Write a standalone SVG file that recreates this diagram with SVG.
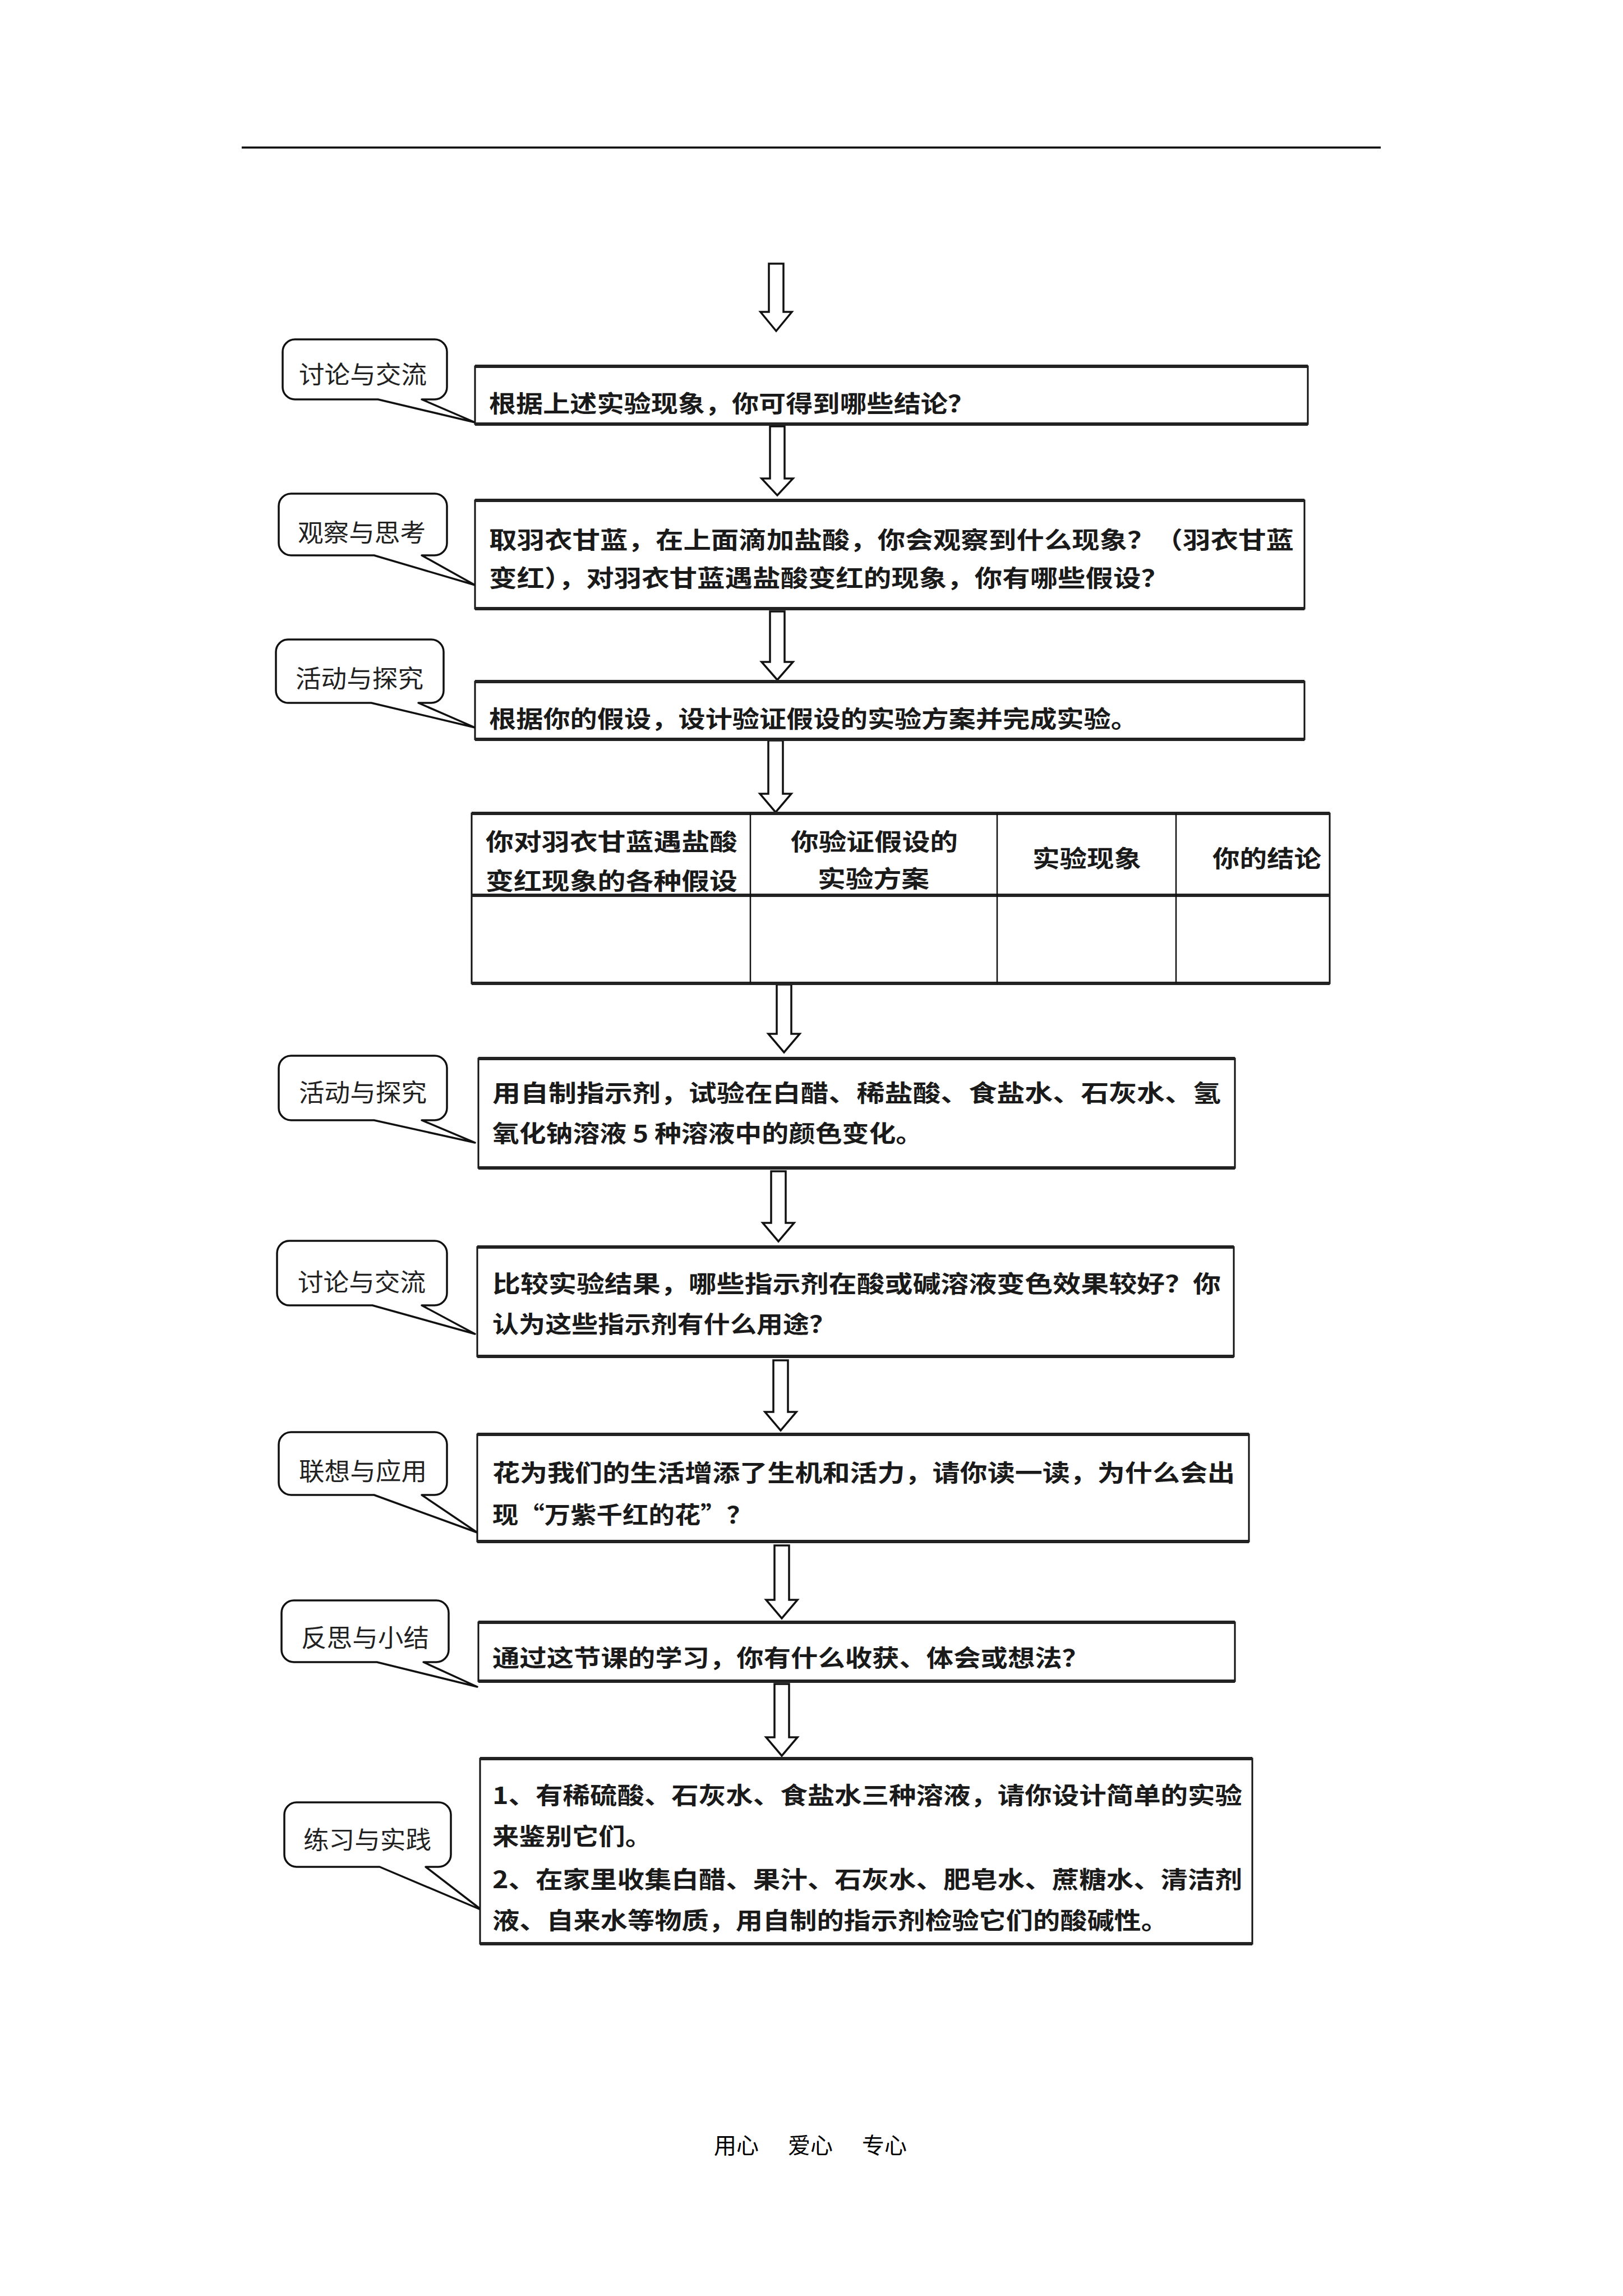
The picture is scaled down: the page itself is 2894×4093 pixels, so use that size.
<svg xmlns="http://www.w3.org/2000/svg" width="2894" height="4093" viewBox="0 0 2894 4093">
<style>
.box{fill:#fff;stroke:#111;stroke-width:3}
.edge{stroke:#222;stroke-width:6;fill:none}
.cell{stroke:#111;stroke-width:2.5;fill:none}
.bubble{fill:#fff;stroke:#111;stroke-width:3.5;stroke-linejoin:round}
.arrow{fill:#fff;stroke:#111;stroke-width:3.5;stroke-linejoin:miter}
.t{font-family:"Noto Sans CJK SC","Noto Sans",sans-serif;font-size:42px;font-weight:700;fill:#1a1a1a;dominant-baseline:central}
.c{font-family:"Noto Sans CJK SC","Noto Sans",sans-serif;font-size:44px;font-weight:400;fill:#222;text-anchor:middle;dominant-baseline:central}
.f{font-family:"Noto Sans CJK SC","Noto Sans",sans-serif;font-size:40px;font-weight:400;fill:#000;dominant-baseline:central}
</style>
<rect width="2894" height="4093" fill="#fff"/>
<line x1="431" y1="263" x2="2462" y2="263" stroke="#000" stroke-width="3.5"/>

<g id="connectors">
<polygon class="arrow" points="1371,470 1397,470 1397,556 1412,556 1384,590 1356,556 1371,556"/>
<polygon class="arrow" points="1373,760 1399,760 1399,853 1414,853 1386,883 1358,853 1373,853"/>
<polygon class="arrow" points="1373,1090 1399,1090 1399,1180 1414,1180 1386,1212 1358,1180 1373,1180"/>
<polygon class="arrow" points="1370,1320 1396,1320 1396,1415 1411,1415 1383,1448 1355,1415 1370,1415"/>
<polygon class="arrow" points="1385,1755 1411,1755 1411,1843 1426,1843 1398,1876 1370,1843 1385,1843"/>
<polygon class="arrow" points="1375,2088 1401,2088 1401,2180 1416,2180 1388,2213 1360,2180 1375,2180"/>
<polygon class="arrow" points="1379,2425 1405,2425 1405,2517 1420,2517 1392,2550 1364,2517 1379,2517"/>
<polygon class="arrow" points="1381,2755 1407,2755 1407,2852 1422,2852 1394,2885 1366,2852 1381,2852"/>
<polygon class="arrow" points="1381,3002 1407,3002 1407,3097 1422,3097 1394,3130 1366,3097 1381,3097"/>
</g>

<g id="node1">
<path class="bubble" d="M526,605 H775 A22,22 0 0 1 797,627 V690 A22,22 0 0 1 775,712 H752 L847,753 L674,712 H526 A22,22 0 0 1 504,690 V627 A22,22 0 0 1 526,605 Z"/>
<text class="c" x="647" y="665" textLength="228" lengthAdjust="spacingAndGlyphs">讨论与交流</text>
<rect class="box" x="847" y="653" width="1485" height="103"/>
<path class="edge" d="M847,653 H2332 M847,756 H2332"/>
<text class="t" x="872" y="716" textLength="866" lengthAdjust="spacingAndGlyphs">根据上述实验现象，你可得到哪些结论？</text>
</g>

<g id="node2">
<path class="bubble" d="M519,880 H775 A22,22 0 0 1 797,902 V968 A22,22 0 0 1 775,990 H752 L847,1043 L667,990 H519 A22,22 0 0 1 497,968 V902 A22,22 0 0 1 519,880 Z"/>
<text class="c" x="645" y="947" textLength="228" lengthAdjust="spacingAndGlyphs">观察与思考</text>
<rect class="box" x="847" y="892" width="1479" height="193"/>
<path class="edge" d="M847,892 H2326 M847,1085 H2326"/>
<text class="t" x="872" y="959" textLength="1435" lengthAdjust="spacingAndGlyphs">取羽衣甘蓝，在上面滴加盐酸，你会观察到什么现象？（羽衣甘蓝</text>
<text class="t" x="872" y="1027" textLength="1212" lengthAdjust="spacingAndGlyphs">变红），对羽衣甘蓝遇盐酸变红的现象，你有哪些假设？</text>
</g>

<g id="node3">
<path class="bubble" d="M514,1140 H769 A22,22 0 0 1 791,1162 V1231 A22,22 0 0 1 769,1253 H746 L847,1297 L662,1253 H514 A22,22 0 0 1 492,1231 V1162 A22,22 0 0 1 514,1140 Z"/>
<text class="c" x="641" y="1207" textLength="228" lengthAdjust="spacingAndGlyphs">活动与探究</text>
<rect class="box" x="847" y="1215" width="1479" height="103"/>
<path class="edge" d="M847,1215 H2326 M847,1318 H2326"/>
<text class="t" x="872" y="1278" textLength="1157" lengthAdjust="spacingAndGlyphs">根据你的假设，设计验证假设的实验方案并完成实验。</text>
</g>

<g id="table">
<rect class="box" x="841" y="1450" width="1530" height="303"/>
<path class="edge" d="M841,1450 H2371 M841,1596 H2371 M841,1753 H2371"/>
<path class="cell" d="M1338,1450 V1753 M1778,1450 V1753 M2097,1450 V1753"/>
<text class="t" x="866" y="1497" textLength="449" lengthAdjust="spacingAndGlyphs">你对羽衣甘蓝遇盐酸</text>
<text class="t" x="866" y="1567" textLength="449" lengthAdjust="spacingAndGlyphs">变红现象的各种假设</text>
<text class="t" x="1410" y="1497" textLength="298" lengthAdjust="spacingAndGlyphs">你验证假设的</text>
<text class="t" x="1458" y="1563" textLength="199" lengthAdjust="spacingAndGlyphs">实验方案</text>
<text class="t" x="1841" y="1527" textLength="194" lengthAdjust="spacingAndGlyphs">实验现象</text>
<text class="t" x="2162" y="1527" textLength="194" lengthAdjust="spacingAndGlyphs">你的结论</text>
</g>

<g id="node4">
<path class="bubble" d="M519,1882 H775 A22,22 0 0 1 797,1904 V1975 A22,22 0 0 1 775,1997 H752 L847,2037 L667,1997 H519 A22,22 0 0 1 497,1975 V1904 A22,22 0 0 1 519,1882 Z"/>
<text class="c" x="647" y="1945" textLength="228" lengthAdjust="spacingAndGlyphs">活动与探究</text>
<rect class="box" x="853" y="1887" width="1349" height="195"/>
<path class="edge" d="M853,1887 H2202 M853,2082 H2202"/>
<text class="t" x="878" y="1945" textLength="1299" lengthAdjust="spacingAndGlyphs">用自制指示剂，试验在白醋、稀盐酸、食盐水、石灰水、氢</text>
<text class="t" x="878" y="2017" textLength="767" lengthAdjust="spacingAndGlyphs">氧化钠溶液 5 种溶液中的颜色变化。</text>
</g>

<g id="node5">
<path class="bubble" d="M516,2212 H775 A22,22 0 0 1 797,2234 V2305 A22,22 0 0 1 775,2327 H752 L847,2378 L664,2327 H516 A22,22 0 0 1 494,2305 V2234 A22,22 0 0 1 516,2212 Z"/>
<text class="c" x="645" y="2283" textLength="228" lengthAdjust="spacingAndGlyphs">讨论与交流</text>
<rect class="box" x="851" y="2223" width="1349" height="195"/>
<path class="edge" d="M851,2223 H2200 M851,2418 H2200"/>
<text class="t" x="878" y="2285" textLength="1299" lengthAdjust="spacingAndGlyphs">比较实验结果，哪些指示剂在酸或碱溶液变色效果较好？你</text>
<text class="t" x="878" y="2357" textLength="612" lengthAdjust="spacingAndGlyphs">认为这些指示剂有什么用途？</text>
</g>

<g id="node6">
<path class="bubble" d="M519,2553 H775 A22,22 0 0 1 797,2575 V2643 A22,22 0 0 1 775,2665 H752 L851,2732 L667,2665 H519 A22,22 0 0 1 497,2643 V2575 A22,22 0 0 1 519,2553 Z"/>
<text class="c" x="647" y="2620" textLength="228" lengthAdjust="spacingAndGlyphs">联想与应用</text>
<rect class="box" x="851" y="2557" width="1376" height="191"/>
<path class="edge" d="M851,2557 H2227 M851,2748 H2227"/>
<text class="t" x="878" y="2622" textLength="1324" lengthAdjust="spacingAndGlyphs">花为我们的生活增添了生机和活力，请你读一读，为什么会出</text>
<text class="t" x="878" y="2697" textLength="464" lengthAdjust="spacingAndGlyphs">现“万紫千红的花”？</text>
</g>

<g id="node7">
<path class="bubble" d="M524,2853 H778 A22,22 0 0 1 800,2875 V2941 A22,22 0 0 1 778,2963 H755 L851,3007 L672,2963 H524 A22,22 0 0 1 502,2941 V2875 A22,22 0 0 1 524,2853 Z"/>
<text class="c" x="651" y="2917" textLength="228" lengthAdjust="spacingAndGlyphs">反思与小结</text>
<rect class="box" x="853" y="2892" width="1349" height="105"/>
<path class="edge" d="M853,2892 H2202 M853,2997 H2202"/>
<text class="t" x="878" y="2952" textLength="1064" lengthAdjust="spacingAndGlyphs">通过这节课的学习，你有什么收获、体会或想法？</text>
</g>

<g id="node8">
<path class="bubble" d="M529,3213 H782 A22,22 0 0 1 804,3235 V3306 A22,22 0 0 1 782,3328 H759 L859,3405 L677,3328 H529 A22,22 0 0 1 507,3306 V3235 A22,22 0 0 1 529,3213 Z"/>
<text class="c" x="655" y="3277" textLength="228" lengthAdjust="spacingAndGlyphs">练习与实践</text>
<rect class="box" x="856" y="3135" width="1377" height="330"/>
<path class="edge" d="M856,3135 H2233 M856,3465 H2233"/>
<text class="t" x="878" y="3197" textLength="1337" lengthAdjust="spacingAndGlyphs">1、有稀硫酸、石灰水、食盐水三种溶液，请你设计简单的实验</text>
<text class="t" x="878" y="3270" textLength="284" lengthAdjust="spacingAndGlyphs">来鉴别它们。</text>
<text class="t" x="878" y="3347" textLength="1337" lengthAdjust="spacingAndGlyphs">2、在家里收集白醋、果汁、石灰水、肥皂水、蔗糖水、清洁剂</text>
<text class="t" x="878" y="3420" textLength="1205" lengthAdjust="spacingAndGlyphs">液、自来水等物质，用自制的指示剂检验它们的酸碱性。</text>
</g>

<g id="footer">
<text class="f" x="1273" y="3822">用心</text>
<text class="f" x="1405" y="3822">爱心</text>
<text class="f" x="1537" y="3822">专心</text>
</g>
</svg>
